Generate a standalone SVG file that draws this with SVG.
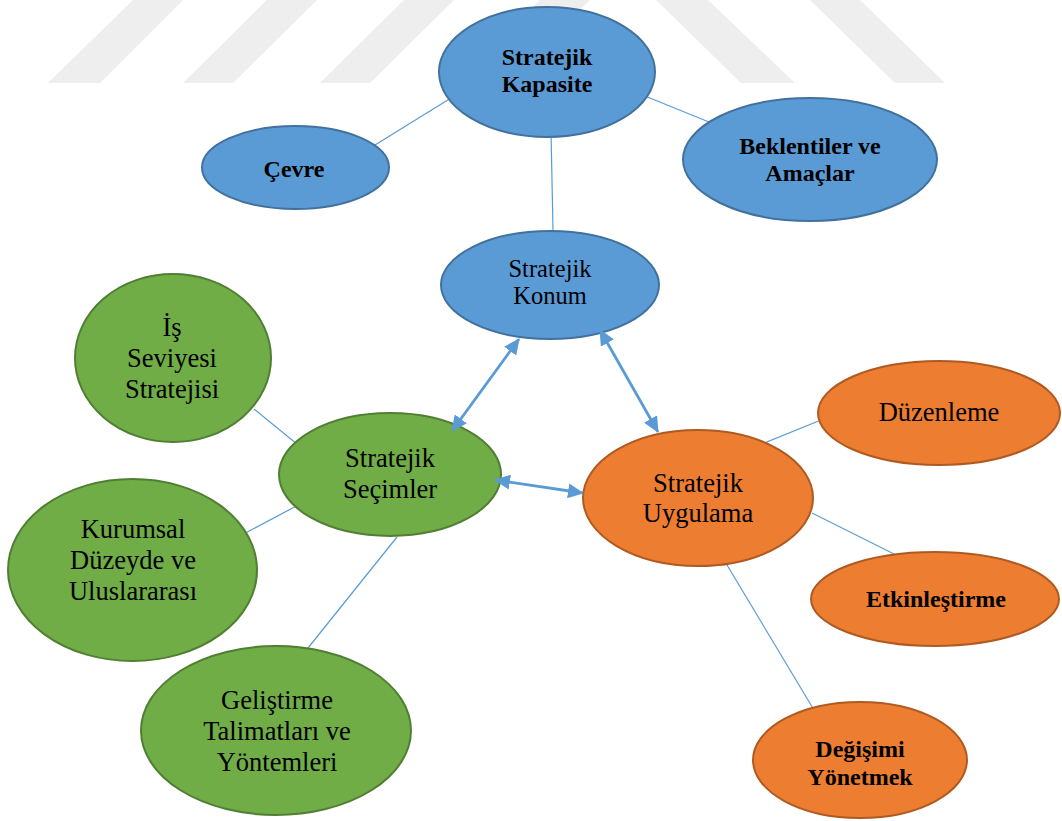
<svg xmlns="http://www.w3.org/2000/svg" width="1062" height="821" viewBox="0 0 1062 821">
<style>
.wm{fill:#eeeeee}
.blue{fill:#5b9bd5;stroke:#41719c;stroke-width:2}
.green{fill:#70ad47;stroke:#507e32;stroke-width:2}
.orange{fill:#ed7d31;stroke:#ae5a21;stroke-width:2}
.t{font-family:"Liberation Serif","Times New Roman",serif;fill:#000;text-anchor:middle}
.b{font-weight:bold;font-size:24px}
.r{font-size:26.5px}
.line{stroke:#5b9bd5;stroke-width:1.2;fill:none}
.arr{stroke:#5b9bd5;stroke-width:2.8;fill:none;marker-start:url(#ah);marker-end:url(#ah)}
</style>
<defs>
<marker id="ah" markerUnits="userSpaceOnUse" markerWidth="16" markerHeight="15" refX="15" refY="7.5" orient="auto-start-reverse" viewBox="0 0 16 15">
<path d="M0,0 L16,7.5 L0,15 z" fill="#5b9bd5"/>
</marker>
</defs>
<rect width="1062" height="821" fill="#ffffff"/>
<g id="watermark">
<polygon class="wm" points="133,0 183,0 100,83 48,83"/>
<polygon class="wm" points="267,0 317,0 233,83 183,83"/>
<polygon class="wm" points="404,0 454,0 370,83 320,83"/>
<polygon class="wm" points="540,0 590,0 506,83 456,83"/>
<polygon class="wm" points="656,0 708,0 795,83 741,83"/>
<polygon class="wm" points="810,0 860,0 945,83 895,83"/>
</g>
<g id="connectors">
<line class="line" x1="451" y1="98" x2="375" y2="145"/>
<line class="line" x1="645" y1="96" x2="709" y2="122"/>
<line class="line" x1="551" y1="131" x2="553" y2="230"/>
<line class="line" x1="254" y1="409" x2="308" y2="453"/>
<line class="line" x1="238" y1="537" x2="302" y2="503"/>
<line class="line" x1="397" y1="537" x2="308" y2="648"/>
<line class="line" x1="762" y1="444" x2="821" y2="420"/>
<line class="line" x1="812" y1="513" x2="902" y2="558"/>
<line class="line" x1="724" y1="560" x2="814" y2="710"/>
</g>
<g id="n-kapasite"><ellipse class="blue" cx="547" cy="72" rx="108" ry="65"/><text class="t b" x="547" y="65">Stratejik</text><text class="t b" x="547" y="92">Kapasite</text></g>
<g id="n-cevre"><ellipse class="blue" cx="295.5" cy="167.5" rx="93.5" ry="41.5"/><text class="t b" x="294" y="177">Çevre</text></g>
<g id="n-beklentiler"><ellipse class="blue" cx="810" cy="159.5" rx="127" ry="61.5"/><text class="t b" x="810" y="154">Beklentiler ve</text><text class="t b" x="810" y="181">Amaçlar</text></g>
<g id="n-konum"><ellipse class="blue" cx="550" cy="285" rx="109" ry="54"/><text class="t" style="font-size:24.5px" x="550" y="277">Stratejik</text><text class="t" style="font-size:24.5px" x="550" y="304">Konum</text></g>
<g id="n-is"><ellipse class="green" cx="173" cy="358" rx="98" ry="84"/><text class="t r" x="172" y="336">İş</text><text class="t r" x="172" y="367">Seviyesi</text><text class="t r" x="172" y="398">Stratejisi</text></g>
<g id="n-secimler"><ellipse class="green" cx="390" cy="474.5" rx="111" ry="61.5"/><text class="t r" x="390" y="467">Stratejik</text><text class="t r" x="390" y="498">Seçimler</text></g>
<g id="n-kurumsal"><ellipse class="green" cx="132.5" cy="570" rx="124.5" ry="91"/><text class="t r" x="133" y="538">Kurumsal</text><text class="t r" x="133" y="569">Düzeyde ve</text><text class="t r" x="133" y="600">Uluslararası</text></g>
<g id="n-gelistirme"><ellipse class="green" cx="276" cy="730.5" rx="135" ry="84.5"/><text class="t r" x="277" y="709">Geliştirme</text><text class="t r" x="277" y="740">Talimatları ve</text><text class="t r" x="277" y="771">Yöntemleri</text></g>
<g id="n-uygulama"><ellipse class="orange" cx="698" cy="498" rx="115" ry="68"/><text class="t r" x="698" y="492">Stratejik</text><text class="t r" x="698" y="522">Uygulama</text></g>
<g id="n-duzenleme"><ellipse class="orange" cx="939" cy="413" rx="121" ry="52"/><text class="t r" x="939" y="421">Düzenleme</text></g>
<g id="n-etkinlestirme"><ellipse class="orange" cx="935" cy="599" rx="124" ry="47"/><text class="t b" x="936" y="607">Etkinleştirme</text></g>
<g id="n-degisimi"><ellipse class="orange" cx="860" cy="760" rx="107" ry="58"/><text class="t b" x="860" y="757">Değişimi</text><text class="t b" x="860" y="785">Yönetmek</text></g>
<g id="arrows">
<line class="arr" x1="452" y1="431" x2="519" y2="339"/>
<line class="arr" x1="600" y1="330" x2="658" y2="432"/>
<line class="arr" x1="495" y1="480" x2="583" y2="493"/>
</g>
</svg>
